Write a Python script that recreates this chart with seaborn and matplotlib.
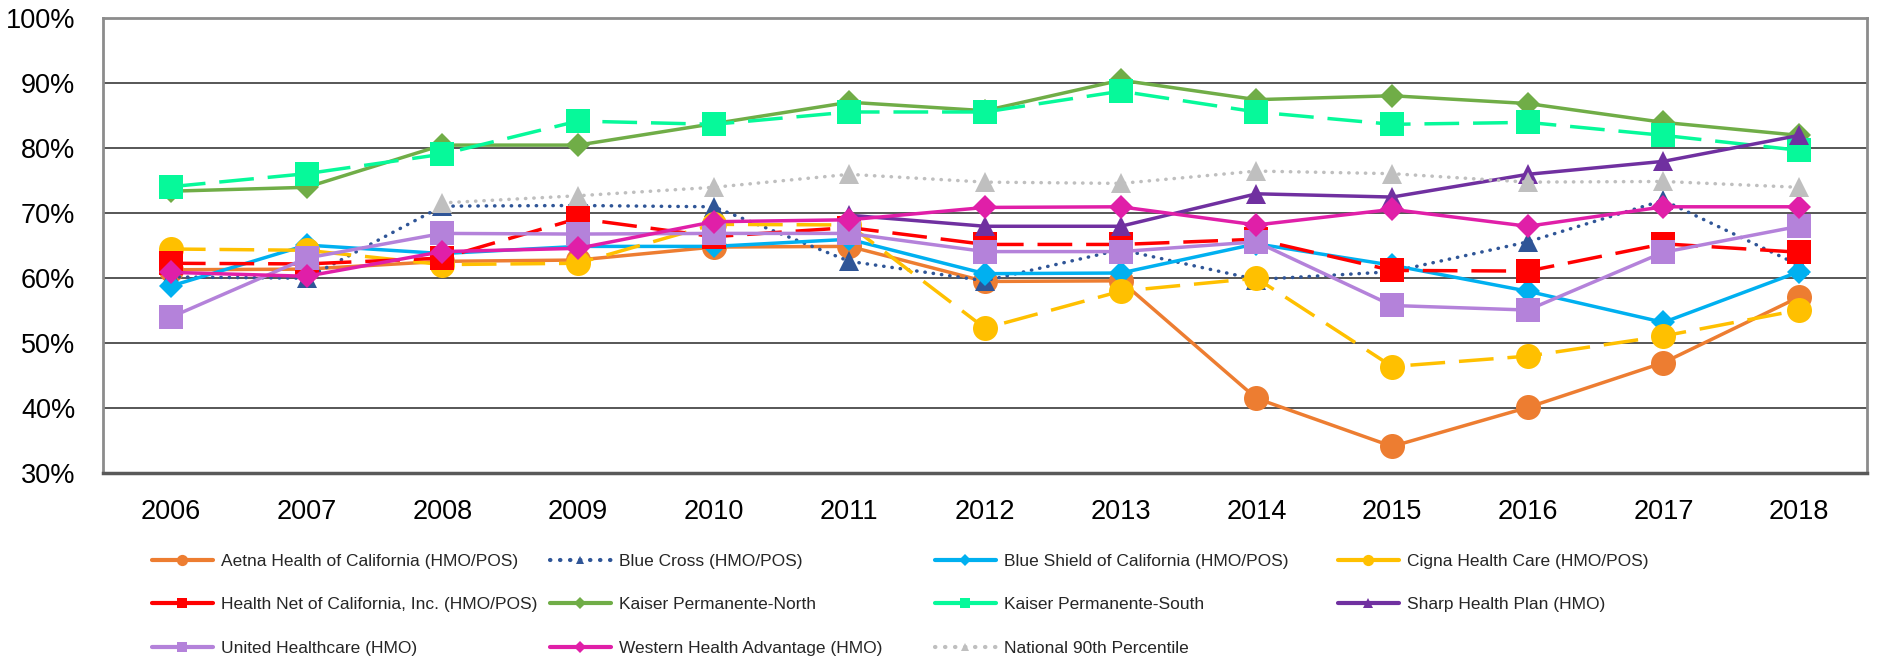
import numpy as np
import matplotlib
matplotlib.use('Agg')
import matplotlib.pyplot as plt
from matplotlib.lines import Line2D
from matplotlib.ticker import FuncFormatter
import seaborn as sns

nan = np.nan
years = list(range(2006, 2019))

# values in percent
aetna = [61.3, 61.4, 62.6, 62.8, 64.8, 64.9, 59.5, 59.6, 41.5, 34.1, 40.1, 47.0, 57.1]
blue_cross = [60.2, 60.0, 71.1, 71.2, 71.0, 62.6, 59.6, 64.4, 59.8, 61.0, 65.6, 72.0, 62.0]
blue_shield = [58.8, 65.1, 63.8, 64.9, 64.9, 66.0, 60.7, 60.8, 65.3, 62.0, 58.0, 53.2, 61.0]
cigna = [64.5, 64.3, 62.1, 62.3, 68.3, 68.2, 52.3, 58.0, 60.0, 46.4, 48.0, 51.1, 55.1]
health_net = [62.3, 62.2, 63.1, 69.2, 66.4, 67.8, 65.2, 65.2, 66.0, 61.2, 61.1, 65.3, 64.0]
kp_north = [73.4, 74.0, 80.5, 80.5, 83.8, 87.1, 85.8, 90.5, 87.5, 88.1, 86.9, 84.0, 82.0]
kp_south = [74.1, 76.1, 79.1, 84.2, 83.7, 85.6, 85.6, 88.8, 85.6, 83.7, 84.0, 82.0, 79.7]
sharp = [nan, nan, nan, nan, nan, 69.7, 68.0, 68.0, 73.0, 72.5, 76.0, 78.0, 82.0]
united = [54.0, 63.1, 66.9, 66.8, 66.9, 66.9, 64.1, 64.1, 65.6, 55.8, 55.1, 64.0, 68.0]
western = [60.9, 60.3, 64.1, 64.6, 68.7, 69.0, 70.9, 71.0, 68.2, 70.6, 68.0, 71.0, 71.0]
national = [nan, nan, 71.6, 72.7, 74.0, 76.0, 74.8, 74.6, 76.5, 76.1, 74.8, 74.9, 74.0]

DASH = (0, (10, 4))
DOT = (0, (0.1, 2.3))

# label, values, color, marker, markersize, linestyle
series = [
    ('Aetna Health of California (HMO/POS)', aetna, '#ED7D31', 'o', 18, '-'),
    ('Blue Cross (HMO/POS)', blue_cross, '#2F5597', '^', 14, DOT),
    ('Blue Shield of California (HMO/POS)', blue_shield, '#00B0F0', 'D', 12.5, '-'),
    ('Cigna Health Care (HMO/POS)', cigna, '#FFC000', 'o', 18, DASH),
    ('Health Net of California, Inc. (HMO/POS)', health_net, '#FF0000', 's', 17, DASH),
    ('Kaiser Permanente-North', kp_north, '#70AD47', 'D', 12.5, '-'),
    ('Kaiser Permanente-South', kp_south, '#06F99A', 's', 17, DASH),
    ('Sharp Health Plan (HMO)', sharp, '#7030A0', '^', 15, '-'),
    ('United Healthcare (HMO)', united, '#B482DA', 's', 17, '-'),
    ('Western Health Advantage (HMO)', western, '#E01FA8', 'D', 12.5, '-'),
    ('National 90th Percentile', national, '#BFBFBF', '^', 14, DOT),
]

sns.set_theme(style='white')
plt.rcParams['font.family'] = ['Liberation Sans', 'DejaVu Sans']

fig = plt.figure(figsize=(18.87, 6.6), dpi=100)
ax = fig.add_axes([0.0546, 0.2833, 0.9348, 0.6887])

handles = []
for i, (label, vals, color, marker, ms, ls) in enumerate(series):
    xs = [y for y, v in zip(years, vals) if not np.isnan(v)]
    vs = [v for v in vals if not np.isnan(v)]
    dotted = ls is DOT
    sns.lineplot(x=xs, y=vs, ax=ax, color=color, marker=marker, markersize=ms,
                 markeredgewidth=0, linewidth=2.5, linestyle=ls, zorder=3 + i,
                 dash_capstyle='round' if dotted else 'butt', legend=False)
    # the original legend shows dashed series with a solid sample line
    handles.append(Line2D([], [], color=color, marker=marker, markersize=ms * 0.45,
                          markeredgewidth=0, linewidth=3,
                          linestyle=ls if dotted else '-', label=label,
                          dash_capstyle='round' if dotted else 'butt'))

ax.set_xlim(2005.5, 2018.5)
ax.set_ylim(30, 100)
ax.set_xticks(years)
ax.set_xticklabels([str(y) for y in years])
ax.set_yticks(range(30, 101, 10))
ax.yaxis.set_major_formatter(FuncFormatter(lambda v, p: f'{v:.0f}%'))
ax.tick_params(axis='both', length=0, labelsize=19.5, labelcolor='black')
ax.tick_params(axis='y', pad=20)
ax.tick_params(axis='x', pad=19)
ax.set_xlabel('')
ax.set_ylabel('')

for yv in range(40, 100, 10):
    ax.axhline(yv, color='#3a3a3a', linewidth=1.2, zorder=1)

for side in ['top', 'left', 'right']:
    ax.spines[side].set_color('#8c8c8c')
    ax.spines[side].set_linewidth(2)
ax.spines['bottom'].set_color('#595959')
ax.spines['bottom'].set_linewidth(2.5)

# legend laid out as 4 equal columns, like the original
columns = [[0, 4, 8], [1, 5, 9], [2, 6, 10], [3, 7]]
col_x = [152, 550, 935, 1338]
for idx, cx in zip(columns, col_x):
    fig.legend(handles=[handles[k] for k in idx], loc='upper left',
               bbox_to_anchor=(cx / 1887, 1 - 554 / 660), frameon=False,
               fontsize=12.5, handlelength=3.5, handletextpad=0.45,
               labelspacing=1.62, borderaxespad=0, borderpad=0)

fig.savefig('out.png', dpi=100)
